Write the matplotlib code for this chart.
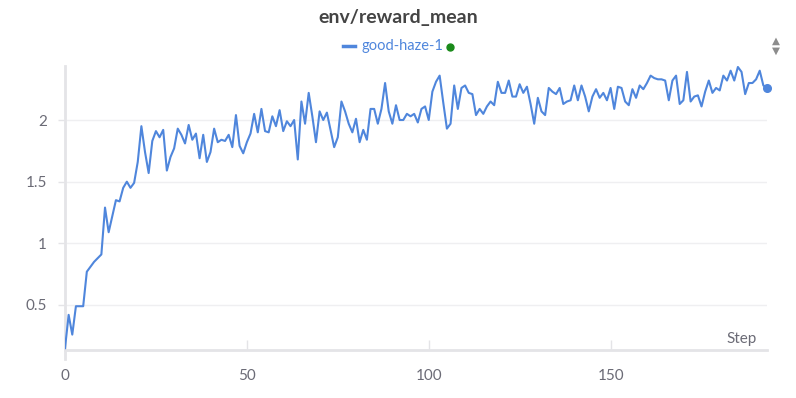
import numpy as np
import matplotlib
matplotlib.use("Agg")
from matplotlib import pyplot as plt

# ---------------- data ----------------
run_name = "good-haze-1"
title = "env/reward_mean"
x_label = "Step"
x_ticks = [0, 50, 100, 150]
y_ticks = [0.5, 1, 1.5, 2]
y_tick_labels = ["0.5", "1", "1.5", "2"]

reward_mean = [
    0.15, 0.42, 0.26, 0.49, 0.49, 0.49, 0.77, 0.81, 0.85, 0.88,
    0.91, 1.29, 1.09, 1.22, 1.35, 1.34, 1.45, 1.50, 1.45, 1.49,
    1.66, 1.95, 1.74, 1.57, 1.83, 1.91, 1.86, 1.92, 1.59, 1.70,
    1.77, 1.93, 1.88, 1.81, 1.96, 1.84, 1.89, 1.69, 1.88, 1.66,
    1.74, 1.93, 1.82, 1.84, 1.83, 1.88, 1.78, 2.04, 1.79, 1.73,
    1.82, 1.89, 2.05, 1.90, 2.09, 1.91, 1.90, 2.03, 1.95, 2.08,
    1.91, 1.99, 1.95, 2.00, 1.68, 2.15, 1.97, 2.22, 2.03, 1.82,
    2.07, 2.00, 2.06, 1.92, 1.78, 1.86, 2.15, 2.07, 1.97, 1.90,
    2.01, 1.82, 1.92, 1.84, 2.09, 2.09, 1.97, 2.09, 2.30, 2.07,
    1.97, 2.12, 2.00, 2.00, 2.05, 2.03, 2.05, 1.98, 2.09, 2.11,
    2.00, 2.23, 2.31, 2.36, 2.14, 1.93, 1.97, 2.28, 2.09, 2.26,
    2.28, 2.22, 2.21, 2.04, 2.09, 2.05, 2.11, 2.15, 2.12, 2.31,
    2.22, 2.22, 2.32, 2.19, 2.19, 2.29, 2.22, 2.27, 2.13, 1.97,
    2.18, 2.07, 2.04, 2.26, 2.23, 2.21, 2.26, 2.13, 2.15, 2.16,
    2.28, 2.16, 2.28, 2.19, 2.07, 2.19, 2.25, 2.18, 2.22, 2.16,
    2.26, 2.09, 2.27, 2.26, 2.15, 2.12, 2.25, 2.18, 2.28, 2.25,
    2.30, 2.36, 2.34, 2.33, 2.33, 2.32, 2.16, 2.32, 2.36, 2.13,
    2.16, 2.39, 2.15, 2.19, 2.20, 2.11, 2.23, 2.32, 2.22, 2.26,
    2.24, 2.36, 2.32, 2.40, 2.32, 2.43, 2.39, 2.21, 2.30, 2.30,
    2.33, 2.40, 2.28, 2.26,
]
steps = np.arange(len(reward_mean))

# ---------------- styling ----------------
plt.rcParams['font.family'] = ['Lato', 'DejaVu Sans']
line_color = "#4f86dc"
grey_text = "#6b6b76"
axis_grey = "#e4e4e7"
grid_grey = "#efeff1"

fig = plt.figure(figsize=(7.96, 3.98), dpi=100)
ax = fig.add_axes([65 / 796, 1 - 350 / 398, 702 / 796, 284 / 398])

ax.plot(steps, reward_mean, color=line_color, linewidth=1.5, solid_joinstyle='round', zorder=3)
ax.plot(steps[-1], reward_mean[-1], 'o', color=line_color, markersize=5.5, zorder=4, clip_on=False)

ax.set_xlim(0, steps[-1])
ax.set_ylim(0.135, 2.438)

ax.set_yticks(y_ticks)
ax.set_yticklabels(y_tick_labels)
ax.set_xticks(x_ticks)
ax.grid(axis='y', color=grid_grey, linewidth=1.0, zorder=0)

for side in ['top', 'right']:
    ax.spines[side].set_visible(False)
for side in ['left', 'bottom']:
    ax.spines[side].set_color(axis_grey)
    ax.spines[side].set_linewidth(2.0)
ax.spines['left'].set_bounds(ax.get_ylim()[0] - 0.07, ax.get_ylim()[1])

ax.tick_params(axis='y', length=5, width=1, color=axis_grey, labelcolor=grey_text,
               labelsize=11, pad=8)
ax.tick_params(axis='x', direction='in', length=7, width=1, color=axis_grey,
               labelcolor=grey_text, labelsize=11, pad=14)

ax.text(0.985, 0.015, x_label, transform=ax.transAxes, ha='right', va='bottom',
        color=grey_text, fontsize=11)

# title and legend
fig.text(0.5, 1 - 18 / 398, title, ha='center', va='center', fontsize=14,
         fontweight='bold', color="#444444")
fig.lines.append(plt.Line2D([343 / 796, 355 / 796], [1 - 46 / 398] * 2,
                            transform=fig.transFigure, color=line_color, linewidth=2.5))
fig.text(362 / 796, 1 - 46 / 398, run_name, ha='left', va='center', fontsize=10.5,
         color=line_color)
fig.lines.append(plt.Line2D([450 / 796], [1 - 47 / 398], transform=fig.transFigure,
                            marker='o', color="#1a8a1a", markersize=5, linestyle='none'))

# little sort arrows top right
fig.text(776 / 796, 1 - 41 / 398, "\u25B2", ha='center', va='center', fontsize=7.5,
         color="#8c8c8c", family='DejaVu Sans')
fig.text(776 / 796, 1 - 51 / 398, "\u25BC", ha='center', va='center', fontsize=7.5,
         color="#8c8c8c", family='DejaVu Sans')

fig.savefig("out.png", dpi=100)
